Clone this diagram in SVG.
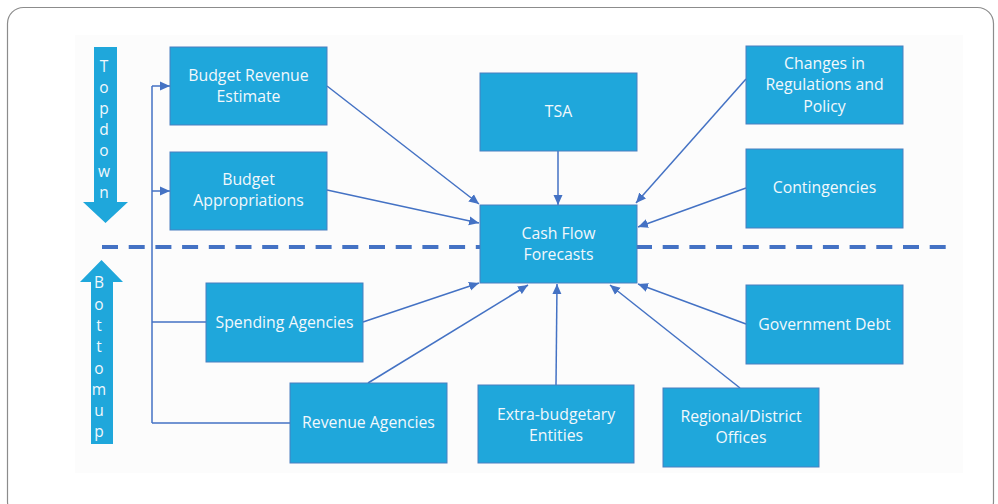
<svg xmlns="http://www.w3.org/2000/svg" width="998" height="504" viewBox="0 0 998 504">
<defs>
<marker id="ah" viewBox="0 0 10 10" refX="10" refY="5" markerWidth="10" markerHeight="10" markerUnits="userSpaceOnUse" orient="auto">
<path d="M0,0.5 L10,5 L0,9.5 z" fill="#4472c4"/>
</marker>
<style>
.box{fill:#1fa7db;stroke:#4a7fc0;stroke-width:1}
.t{font-family:"Open Sans","Liberation Sans",sans-serif;font-size:15.8px;fill:#f2f8fc;text-anchor:middle}
.c{fill:none;stroke:#4472c4;stroke-width:1.5}
.ca{fill:none;stroke:#4472c4;stroke-width:1.5;marker-end:url(#ah)}
.big{fill:#1fa7db}
.lt{font-family:"Open Sans","Liberation Sans",sans-serif;font-size:15.5px;fill:#f2f8fc;text-anchor:middle}
</style>
</defs>
<rect x="0" y="0" width="998" height="504" fill="#ffffff"/>
<rect x="7.5" y="7.5" width="986" height="510" rx="16" fill="#ffffff" stroke="#8c8c8c" stroke-width="1.2"/>
<rect x="75" y="35" width="888" height="438" fill="#fcfcfc"/>

<g id="topdown">
<path class="big" d="M94,47 H117 V202 H128 L105.5,223 L83,202 H94 Z"/>
<text class="lt" x="104" y="72">T</text>
<text class="lt" x="104" y="93">o</text>
<text class="lt" x="104" y="114">p</text>
<text class="lt" x="104" y="135">d</text>
<text class="lt" x="104" y="156">o</text>
<text class="lt" x="104" y="177">w</text>
<text class="lt" x="104" y="198">n</text>
</g>
<g id="bottomup">
<path class="big" d="M101.5,260 L123,282 H113 V444 H91 V282 H80 Z"/>
<text class="lt" x="99" y="288">B</text>
<text class="lt" x="99" y="310">o</text>
<text class="lt" x="99" y="331">t</text>
<text class="lt" x="99" y="352">t</text>
<text class="lt" x="99" y="374">o</text>
<text class="lt" x="99" y="395">m</text>
<text class="lt" x="99" y="416">u</text>
<text class="lt" x="99" y="437">p</text>
</g>

<line x1="102" y1="247" x2="948" y2="247" stroke="#4472c4" stroke-width="4" stroke-dasharray="16,10.7"/>

<g id="connectors">
<path class="c" d="M152,423 V86"/>
<path class="ca" d="M152,86 H170"/>
<path class="ca" d="M152,191 H170"/>
<path class="c" d="M152,322 H206"/>
<path class="c" d="M152,423 H290"/>
<path class="ca" d="M327,86 L479,204"/>
<path class="ca" d="M327,190 L479,223"/>
<path class="ca" d="M558,151 L558,205"/>
<path class="ca" d="M746,79 L636,203"/>
<path class="ca" d="M746,188 L638,227"/>
<path class="ca" d="M746,324 L638,284"/>
<path class="ca" d="M740,388 L610,285"/>
<path class="ca" d="M556,385 L557,284"/>
<path class="ca" d="M368,383 L528,285"/>
<path class="ca" d="M363,322 L479,283"/>
</g>

<g id="budget-revenue-estimate">
<rect class="box" x="170" y="47" width="157" height="78"/>
<text class="t" x="248.5" y="81">Budget Revenue</text>
<text class="t" x="248.5" y="102">Estimate</text>
</g>
<g id="budget-appropriations">
<rect class="box" x="170" y="152" width="157" height="78"/>
<text class="t" x="248.5" y="185">Budget</text>
<text class="t" x="248.5" y="206">Appropriations</text>
</g>
<g id="tsa">
<rect class="box" x="480" y="73" width="157" height="78"/>
<text class="t" x="558.5" y="117">TSA</text>
</g>
<g id="cash-flow-forecasts">
<rect class="box" x="480" y="205" width="157" height="78"/>
<text class="t" x="558.5" y="239">Cash Flow</text>
<text class="t" x="558.5" y="260">Forecasts</text>
</g>
<g id="changes">
<rect class="box" x="746" y="46" width="157" height="78"/>
<text class="t" x="824.5" y="69">Changes in</text>
<text class="t" x="824.5" y="90">Regulations and</text>
<text class="t" x="824.5" y="112">Policy</text>
</g>
<g id="contingencies">
<rect class="box" x="746" y="149" width="157" height="79"/>
<text class="t" x="824.5" y="193">Contingencies</text>
</g>
<g id="government-debt">
<rect class="box" x="746" y="285" width="157" height="79"/>
<text class="t" x="824.5" y="330">Government Debt</text>
</g>
<g id="regional-district-offices">
<rect class="box" x="663" y="388" width="156" height="79"/>
<text class="t" x="741" y="422">Regional/District</text>
<text class="t" x="741" y="443">Offices</text>
</g>
<g id="spending-agencies">
<rect class="box" x="206" y="283" width="157" height="79"/>
<text class="t" x="284.5" y="328">Spending Agencies</text>
</g>
<g id="revenue-agencies">
<rect class="box" x="290" y="383" width="157" height="80"/>
<text class="t" x="368.5" y="428">Revenue Agencies</text>
</g>
<g id="extra-budgetary-entities">
<rect class="box" x="478" y="385" width="156" height="78"/>
<text class="t" x="556" y="420">Extra-budgetary</text>
<text class="t" x="556" y="441">Entities</text>
</g>
</svg>
